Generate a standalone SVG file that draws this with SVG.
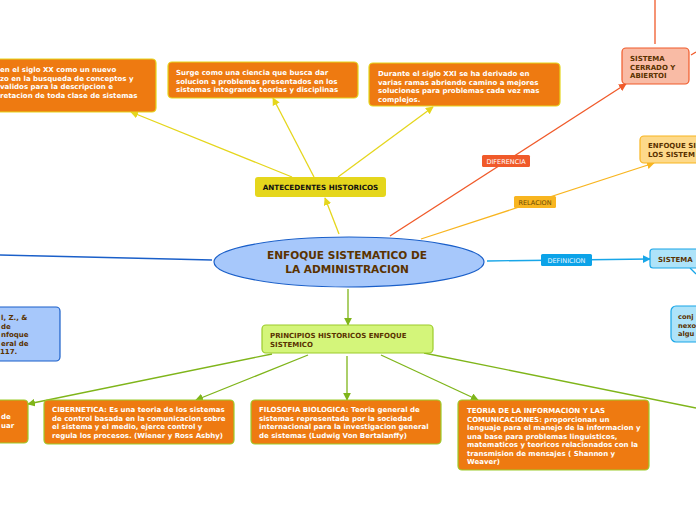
<svg xmlns="http://www.w3.org/2000/svg" width="696" height="520" viewBox="0 0 696 520">
<defs>
<style>
text{font-family:"DejaVu Sans","Verdana",sans-serif;font-weight:bold;font-size:7px}
.w{fill:#ffffff}
.b{fill:#5a3200}
.k{fill:#111111}
.lbl{font-weight:normal;font-size:6.5px}
.or{fill:#ee7a11;stroke-width:1.2}
.ln{fill:none;stroke-width:1.3}
</style>
<marker id="ay" viewBox="0 0 10 10" refX="9" refY="5" markerWidth="6" markerHeight="6" orient="auto"><path d="M0,0L10,5L0,10z" fill="#e5d61c"/></marker>
<marker id="ag" viewBox="0 0 10 10" refX="9" refY="5" markerWidth="6" markerHeight="6" orient="auto"><path d="M0,0L10,5L0,10z" fill="#7fb51a"/></marker>
<marker id="ar" viewBox="0 0 10 10" refX="9" refY="5" markerWidth="6" markerHeight="6" orient="auto"><path d="M0,0L10,5L0,10z" fill="#f05a2a"/></marker>
<marker id="ao" viewBox="0 0 10 10" refX="9" refY="5" markerWidth="6" markerHeight="6" orient="auto"><path d="M0,0L10,5L0,10z" fill="#f8b520"/></marker>
<marker id="ac" viewBox="0 0 10 10" refX="9" refY="5" markerWidth="6" markerHeight="6" orient="auto"><path d="M0,0L10,5L0,10z" fill="#18a6e8"/></marker>
</defs>
<rect width="696" height="520" fill="#ffffff"/>
<g id="connectors">
<path class="ln" stroke="#e5d61c" d="M339,234L325,198" marker-end="url(#ay)"/>
<path class="ln" stroke="#e5d61c" d="M292,177L131,112" marker-end="url(#ay)"/>
<path class="ln" stroke="#e5d61c" d="M314,177L273,98" marker-end="url(#ay)"/>
<path class="ln" stroke="#e5d61c" d="M338,177L433,107" marker-end="url(#ay)"/>
<path class="ln" stroke="#f05a2a" d="M390,236L626,84" marker-end="url(#ar)"/>
<path class="ln" stroke="#f05a2a" d="M655,0L655,44"/>
<path class="ln" stroke="#f05a2a" d="M691,55L696,52"/>
<path class="ln" stroke="#f8b520" d="M421,239L654,163" marker-end="url(#ao)"/>
<path class="ln" stroke="#18a6e8" d="M487,261L650,259" marker-end="url(#ac)"/>
<path class="ln" stroke="#18a6e8" d="M690,268L696,274"/>
<path class="ln" stroke="#1a5fc9" d="M212,260L0,255"/>
<path class="ln" stroke="#7fb51a" d="M348,289L348,325" marker-end="url(#ag)"/>
<path class="ln" stroke="#7fb51a" d="M272,354L28,404" marker-end="url(#ag)"/>
<path class="ln" stroke="#7fb51a" d="M308,355L196,400" marker-end="url(#ag)"/>
<path class="ln" stroke="#7fb51a" d="M347,356L347,400" marker-end="url(#ag)"/>
<path class="ln" stroke="#7fb51a" d="M381,355L478,400" marker-end="url(#ag)"/>
<path class="ln" stroke="#7fb51a" d="M424,353L696,408"/>
<g id="lbl-diferencia"><rect x="482" y="155" width="48" height="12" rx="1.5" fill="#f05a2a"/><text class="lbl w" x="506" y="163.5" text-anchor="middle">DIFERENCIA</text></g>
<g id="lbl-relacion"><rect x="514" y="196" width="42" height="12" rx="1.5" fill="#f8b520"/><text class="lbl" fill="#6b4a00" x="535" y="204.5" text-anchor="middle">RELACION</text></g>
<g id="lbl-definicion"><rect x="541" y="254" width="51" height="12" rx="1.5" fill="#0ca3e8"/><text class="lbl" fill="#e8f6ff" x="566.5" y="262.5" text-anchor="middle">DEFINICION</text></g>
</g>
<g id="center">
<ellipse cx="349" cy="262" rx="135" ry="25" fill="#a7c8fb" stroke="#1a5fc9" stroke-width="1.2"/>
<text class="b" style="font-size:10.6px" x="347" y="259" text-anchor="middle">ENFOQUE SISTEMATICO DE</text>
<text class="b" style="font-size:10.6px" x="347" y="273" text-anchor="middle">LA ADMINISTRACION</text>
</g>
<g id="antecedentes">
<rect x="255" y="177" width="131" height="20" rx="3" fill="#e5d61c"/>
<text class="k" style="font-size:7.2px" x="320.5" y="190" text-anchor="middle">ANTECEDENTES HISTORICOS</text>
</g>
<g id="ant1">
<rect class="or" x="-6" y="59" width="162" height="53" rx="4" stroke="#e5d61c"/>
<text class="w" x="0" y="72">en el siglo XX como un nuevo</text>
<text class="w" x="0" y="80.5">zo en la busqueda de conceptos y</text>
<text class="w" x="0" y="89">validos para la descripcion e</text>
<text class="w" x="0" y="97.5">retacion de toda clase de sistemas</text>
</g>
<g id="ant2">
<rect class="or" x="168" y="62" width="190" height="36" rx="4" stroke="#e5d61c"/>
<text class="w" x="176" y="75">Surge como una ciencia que busca dar</text>
<text class="w" x="176" y="83.5">solucion a problemas presentados en los</text>
<text class="w" x="176" y="92">sistemas integrando teorias y disciplinas</text>
</g>
<g id="ant3">
<rect class="or" x="369" y="63" width="191" height="43" rx="4" stroke="#e5d61c"/>
<text class="w" x="378" y="76">Durante el siglo XXI se ha derivado en</text>
<text class="w" x="378" y="84.5">varias ramas abriendo camino a mejores</text>
<text class="w" x="378" y="93">soluciones para problemas cada vez mas</text>
<text class="w" x="378" y="101.5">complejos.</text>
</g>
<g id="cerrado">
<rect x="622" y="48" width="67" height="36" rx="4" fill="#f9bba5" stroke="#f05a2a" stroke-width="1.2"/>
<text class="b" x="630" y="61">SISTEMA</text>
<text class="b" x="630" y="69.5">CERRADO Y</text>
<text class="b" x="630" y="78">ABIERTOI</text>
</g>
<g id="enfoque-sis">
<rect x="640" y="136" width="70" height="27" rx="4" fill="#fdd98a" stroke="#f8b520" stroke-width="1.2"/>
<text class="b" x="648" y="148">ENFOQUE SI</text>
<text class="b" x="648" y="157">LOS SISTEM</text>
</g>
<g id="sistema">
<rect x="650" y="249" width="56" height="19" rx="3" fill="#aee3f9" stroke="#18a6e8" stroke-width="1.2"/>
<text class="b" x="658" y="261.5">SISTEMA</text>
</g>
<g id="sistema-def">
<rect x="671" y="306" width="40" height="36" rx="5" fill="#aee3f9" stroke="#18a6e8" stroke-width="1.2"/>
<text class="b" style="font-size:6.7px" x="678" y="319">conj</text>
<text class="b" style="font-size:6.7px" x="678" y="327.5">nexo</text>
<text class="b" style="font-size:6.7px" x="678" y="336">algu</text>
</g>
<g id="ref-left">
<rect x="-6" y="307" width="66" height="54" rx="4" fill="#a7c8fb" stroke="#1a5fc9" stroke-width="1.2"/>
<text class="b" x="1" y="320">l, Z., &amp;</text>
<text class="b" x="1" y="328.5">de</text>
<text class="b" x="1" y="337">nfoque</text>
<text class="b" x="1" y="345.5">eral de</text>
<text class="b" x="0" y="354">117.</text>
</g>
<g id="principios">
<rect x="262" y="325" width="171" height="28" rx="4" fill="#d4f57a" stroke="#9ccc2a" stroke-width="1.2"/>
<text class="b" x="270" y="337.5">PRINCIPIOS HISTORICOS ENFOQUE</text>
<text class="b" x="270" y="346.5">SISTEMICO</text>
</g>
<g id="pr-left">
<rect class="or" x="-6" y="400" width="34" height="43" rx="4" stroke="#9ccc2a"/>
<text class="w" x="1" y="419">de</text>
<text class="w" x="1" y="427.5">uar</text>
</g>
<g id="cibernetica">
<rect class="or" x="44" y="400" width="190" height="44" rx="4" stroke="#9ccc2a"/>
<text class="w" x="52" y="412">CIBERNETICA: Es una teoria de los sistemas</text>
<text class="w" x="52" y="420.5">de control basada en la comunicacion sobre</text>
<text class="w" x="52" y="429">el sistema y el medio, ejerce control y</text>
<text class="w" x="52" y="437.5">regula los procesos. (Wiener y Ross Asbhy)</text>
</g>
<g id="filosofia">
<rect class="or" x="251" y="400" width="190" height="44" rx="4" stroke="#9ccc2a"/>
<text class="w" x="259" y="412">FILOSOFIA BIOLOGICA: Teoria general de</text>
<text class="w" x="259" y="420.5">sistemas representada por la sociedad</text>
<text class="w" x="259" y="429">internacional para la investigacion general</text>
<text class="w" x="259" y="437.5">de sistemas (Ludwig Von Bertalanffy)</text>
</g>
<g id="teoria">
<rect class="or" x="458" y="400" width="191" height="70" rx="4" stroke="#9ccc2a"/>
<text class="w" x="467" y="413">TEORIA DE LA INFORMACION Y LAS</text>
<text class="w" x="467" y="421.5">COMUNICACIONES: proporcionan un</text>
<text class="w" x="467" y="430">lenguaje para el manejo de la informacion y</text>
<text class="w" x="467" y="438.5">una base para problemas linguisticos,</text>
<text class="w" x="467" y="447">matematicos y teoricos relacionados con la</text>
<text class="w" x="467" y="455.5">transmision de mensajes ( Shannon y</text>
<text class="w" x="467" y="464">Weaver)</text>
</g>
</svg>
